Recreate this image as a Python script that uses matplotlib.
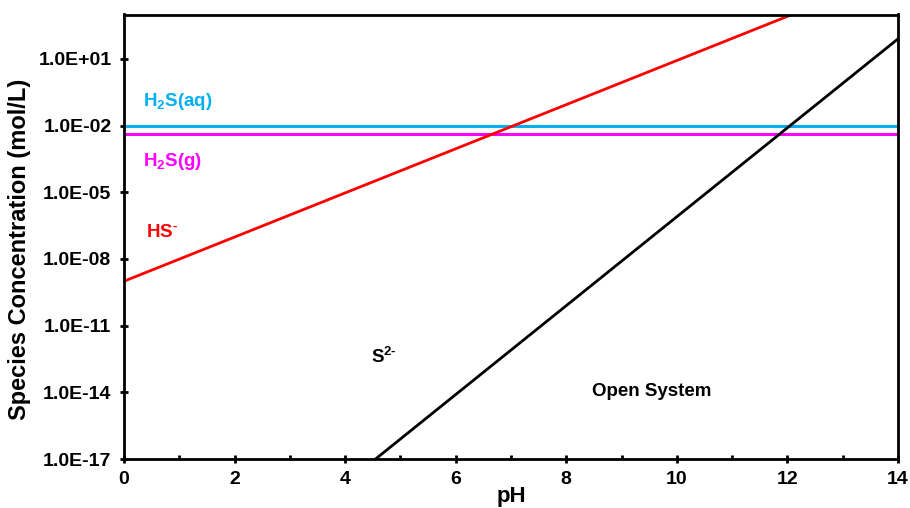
import numpy as np
import matplotlib
matplotlib.use('Agg')
import matplotlib.pyplot as plt
from matplotlib.ticker import FuncFormatter, FixedLocator

plt.rcParams['font.family'] = ['Liberation Sans', 'DejaVu Sans']
plt.rcParams['font.weight'] = 'bold'
plt.rcParams['mathtext.fontset'] = 'custom'
plt.rcParams['mathtext.rm'] = 'Liberation Sans:bold'
plt.rcParams['mathtext.bf'] = 'Liberation Sans:bold'
plt.rcParams['mathtext.default'] = 'bf'

# species lines, pH vs concentration (mol/L), end points of straight log lines
h2s_aq_pH = [0, 14]
h2s_aq_conc = [1.0e-2, 1.0e-2]
h2s_g_pH = [0, 14]
h2s_g_conc = [4.3e-3, 4.3e-3]
hs_pH = [0, 14]
hs_conc = [1.0e-9, 8.0e4]
s2_pH = [4.55, 14]
s2_conc = [1.0e-17, 8.0e1]

y_ticks = [1e-17, 1e-14, 1e-11, 1e-8, 1e-5, 1e-2, 1e1]


def yaxis_label(v, pos):
    return "{:.1E}".format(v)


def draw():
    fig = plt.figure(figsize=(9.1, 5.08), dpi=100)
    ax = fig.add_axes([124 / 910, 1 - 459 / 508, (898 - 124) / 910, (459 - 14.5) / 508])
    ax.set_yscale('log')
    ax.set_xlim(0, 14)
    ax.set_ylim(1e-17, 1e3)

    ax.plot(h2s_aq_pH, h2s_aq_conc, color='#00B0F0', lw=2.2)
    ax.plot(h2s_g_pH, h2s_g_conc, color='#FF00FF', lw=2.2)
    ax.plot(hs_pH, hs_conc, color='#FF0000', lw=2)
    ax.plot(s2_pH, s2_conc, color='black', lw=2)

    fs = 13.5
    ax.text(0.34, 10 ** -0.9, 'H$_2$S(aq)', color='#00B0F0', fontsize=fs, va='center')
    ax.text(0.34, 10 ** -3.63, 'H$_2$S(g)', color='#FF00FF', fontsize=fs, va='center')
    ax.text(0.4, 10 ** -6.8, 'HS$^{\u2010}$', color='#FF0000', fontsize=fs, va='center')
    ax.text(4.47, 10 ** -12.4, 'S$^{2\u2010}$', color='black', fontsize=fs, va='center')
    ax.text(8.46, 10 ** -13.98, 'Open System', color='black', fontsize=fs, va='center')

    ax.yaxis.set_major_locator(FixedLocator(y_ticks))
    ax.yaxis.set_minor_locator(FixedLocator([]))
    ax.yaxis.set_major_formatter(FuncFormatter(yaxis_label))
    ax.set_xticks(np.arange(0, 15, 2))
    ax.set_xticks(np.arange(1, 14, 2), minor=True)

    ax.tick_params(axis='both', which='major', direction='inout', length=6, width=2,
                   labelsize=14)
    ax.tick_params(axis='y', which='major', pad=6)
    ax.tick_params(axis='x', which='major', pad=6)
    ax.tick_params(axis='x', which='minor', direction='in', length=3, width=2)
    for s in ax.spines.values():
        s.set_linewidth(2)

    ax.set_xlabel('pH', fontsize=16, fontweight='bold', labelpad=-2)
    ax.set_ylabel('Species Concentration (mol/L)', fontsize=17, fontweight='bold')
    ax.yaxis.set_label_coords(-0.12, 0.472)

    fig.savefig('out.png', dpi=100)


if __name__ == "__main__":
    draw()
